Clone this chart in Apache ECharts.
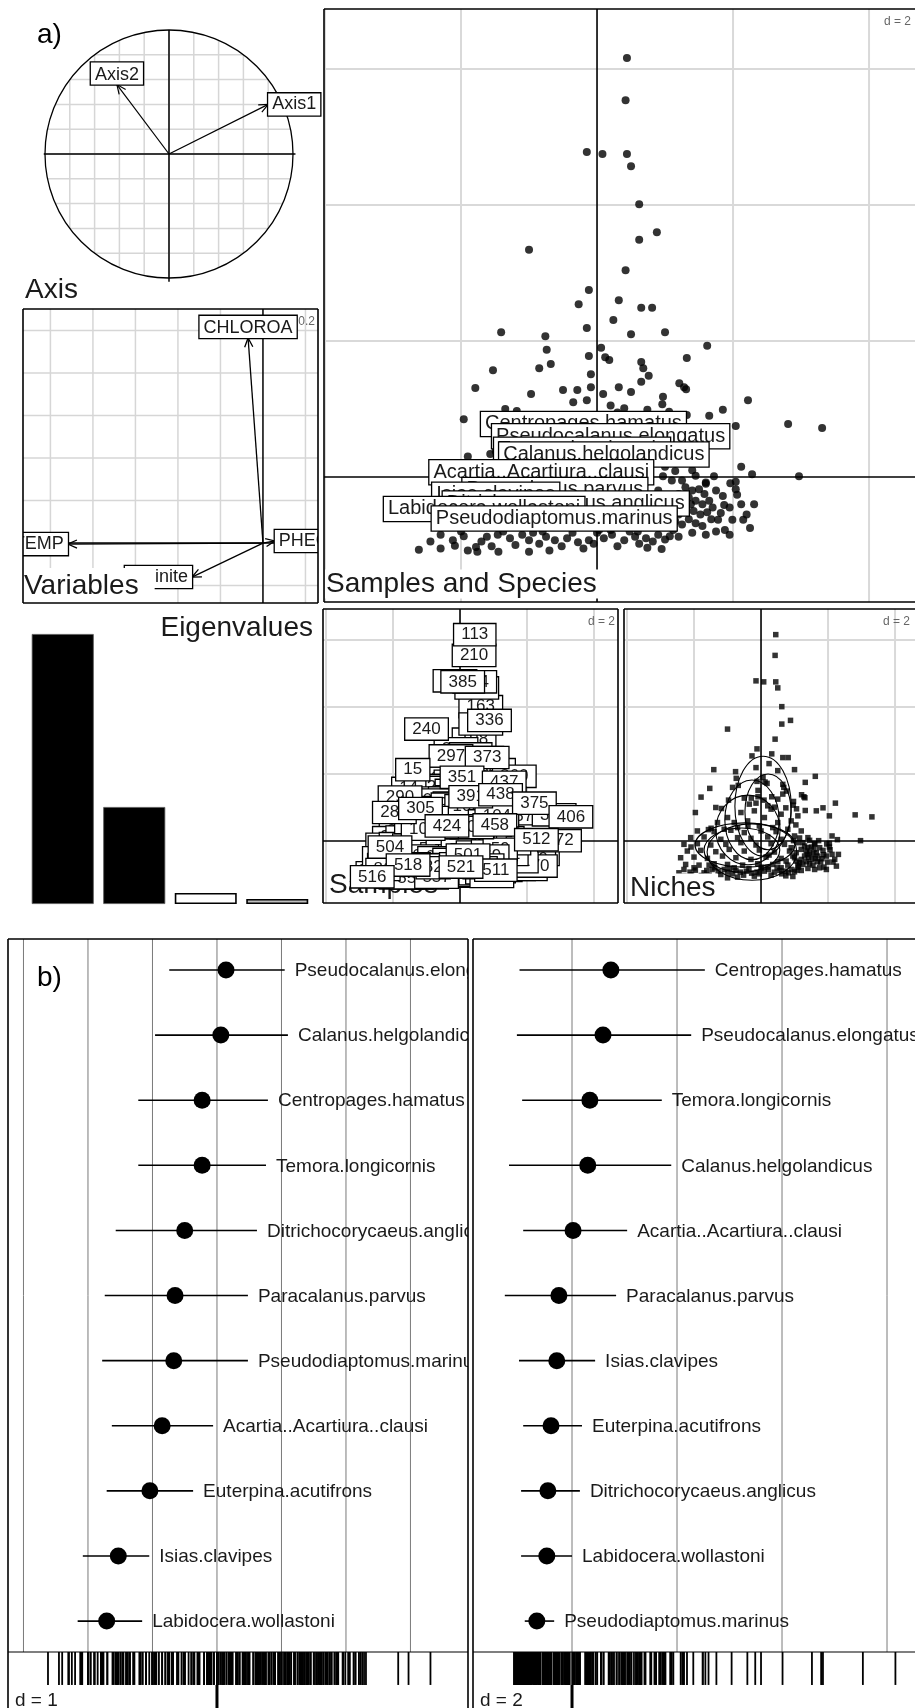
<!DOCTYPE html>
<html><head><meta charset="utf-8">
<script src="https://cdn.jsdelivr.net/npm/echarts@6/dist/echarts.min.js"></script>
<style>html,body{margin:0;padding:0;background:#fff}#c{width:915px;height:1708px}</style>
</head><body><div id="c"></div>
<script>
// ================= DATA =================
// correlation circle (panel "Axis")
const corNames = ['Axis1', 'Axis2'];
const corX = [0.80, -0.42];
const corY = [0.40, 0.56];
const corTicks = [-0.8, -0.6, -0.4, -0.2, 0, 0.2, 0.4, 0.6, 0.8];

// variables panel (d = 0.2)
const varNames = ['CHLOROA', 'TEMP', 'Salinite', 'PHEO'];
const varX = [-0.07, -0.918, -0.334, 0.056];
const varY = [0.965, -0.005, -0.16, 0.01];
const varTicksX = [-1.0, -0.8, -0.6, -0.4, -0.2, 0.2];
const varTicksY = [-0.2, 0.2, 0.4, 0.6, 0.8, 1.0];

// eigenvalues
const eigValues = [2.70, 0.97, 0.11, 0.05];

// scatter grid ticks (d = 2)
const ssTicksX = [-4, -2, 2, 4];
const ssTicksY = [2, 4, 6];

// samples: [axis1, axis2, sample id]
const sparsePts = [
[0.62,4.01,163],[0.42,3.04,198],[-0.12,2.75,243],[0.32,2.60,311],[0.65,2.49,312],[0.24,2.31,355],[-0.76,2.07,300],[-0.15,2.19,302],[0.50,2.10,340],[1.00,2.13,341],
[1.62,1.93,360],[-0.74,1.87,316],[0.12,1.76,358],[0.18,1.72,359],[-0.12,1.78,357],[0.65,1.69,364],[0.68,1.60,365],[-0.68,1.66,320],[-0.85,1.60,321],[-1.53,1.57,14],
[-0.09,1.51,380],[0.76,1.49,381],[0.65,1.40,383],[-0.09,1.32,390],[0.09,1.22,392],[1.28,1.32,439],[1.31,1.29,440],[-0.50,1.28,303],[-0.29,1.28,304],[0.50,1.25,393],
[-0.97,1.22,307],[0.97,1.18,441],[0.96,1.07,442],[-0.15,1.13,400],[1.85,0.99,376],[1.65,0.90,377],[0.40,1.01,401],[0.74,0.99,403],[1.06,0.96,443],[-1.35,1.00,291],
[1.32,0.91,444],[2.04,0.75,378],[-1.57,0.34,292],[-1.49,0.38,293],[2.12,0.15,407],[0.97,0.01,459],[1.15,0.09,460],[1.72,0.01,461],[1.96,-0.09,462],[2.04,-0.07,463],
[2.04,-0.18,464],[2.06,-0.26,465],[2.12,-0.40,466],[2.31,-0.40,467],[1.87,-0.41,468],[1.82,-0.53,469],[2.15,-0.63,473],[1.99,-0.63,474],[1.78,-0.63,475],[1.88,-0.78,476]
];
const lowRowPts = [
[-2.12,-0.93,505],[-1.96,-0.87,506],[-2.09,-1.01,507],[-1.78,-1.03,508],[-1.76,-1.10,509],[-1.62,-0.88,510],[-1.46,-0.85,513],[-1.28,-0.90,514],[-1.00,-0.93,515],[-0.94,-0.82,517],
[-0.62,-0.93,519],[-0.44,-0.90,520],[-0.28,-0.96,522],[-0.12,-0.93,523],[0.00,-0.82,524],[0.22,-0.85,525],[0.40,-0.93,526],[0.56,-0.88,527],[0.72,-0.90,528],[0.90,-0.85,529],
[1.12,-0.78,530],[-1.00,-1.10,531],[0.74,-1.04,532],
[-2.45,-0.95,533],[-2.30,-1.05,534],[-2.00,-0.80,535],[-1.90,-1.08,536],[-1.70,-0.95,537],[-1.55,-1.02,538],[-1.38,-0.80,539],[-1.20,-1.00,540],[-1.10,-0.85,541],[-0.85,-0.98,542],
[-0.75,-0.88,543],[-0.52,-1.02,544],[-0.36,-0.82,545],[-0.20,-1.05,546],[-0.05,-0.98,547],[0.10,-0.90,548],[0.30,-1.02,549],[0.48,-0.80,550],[0.62,-0.98,551],[0.82,-0.95,552],
[1.00,-0.92,553],[1.20,-0.88,554],[0.95,-1.06,555],[-1.45,-1.10,556],[-0.70,-1.08,557]
];
const rightClusterPts = [
[1.30,-0.15,480],[1.40,-0.20,481],[1.50,-0.18,482],[1.58,-0.25,483],[1.35,-0.30,484],[1.45,-0.35,485],[1.55,-0.40,486],[1.65,-0.35,487],[1.30,-0.45,488],[1.42,-0.50,489],
[1.52,-0.55,490],[1.62,-0.52,491],[1.35,-0.62,492],[1.45,-0.68,493],[1.55,-0.72,494],[1.25,-0.70,495],[1.15,-0.65,496],[1.20,-0.55,497],[1.10,-0.72,498],[1.05,-0.60,499],
[1.25,-0.05,558],[1.45,0.02,559],[1.60,-0.10,560],[1.75,-0.20,561],[1.85,-0.28,562],[1.70,-0.45,563],[1.95,-0.45,564],[1.40,-0.82,565],[1.60,-0.85,566],[1.75,-0.80,567],
[1.95,-0.85,568],[2.20,-0.55,569],[2.25,-0.75,570],[1.68,-0.62,571],[1.38,-0.40,572],[0.90,-0.20,573],[1.05,-0.35,574],[0.75,-0.60,575],[0.50,-0.62,576],[1.00,-0.50,577]
];
const mainClusterPts = [
[-1.90,0.30,21],[-1.40,0.28,22],[-0.90,0.32,23],[-0.50,0.25,24],[0.00,0.30,25],[0.45,0.28,26],[0.80,0.35,27],[1.20,0.30,28],
[-2.10,0.10,31],[-1.70,0.12,32],[-1.20,0.05,33],[-0.70,0.10,34],[-0.30,0.08,35],[0.20,0.12,36],[0.60,0.05,37],[1.00,0.15,38],[1.40,0.10,39],
[-2.30,-0.10,41],[-1.90,-0.08,42],[-1.50,-0.12,43],[-1.05,-0.10,44],[-0.60,-0.05,45],[-0.15,-0.12,46],[0.30,-0.08,47],[0.70,-0.10,48],[1.10,-0.05,49],[1.60,-0.08,50],
[-2.20,-0.30,51],[-1.80,-0.28,52],[-1.35,-0.32,53],[-0.95,-0.25,54],[-0.50,-0.30,55],[-0.05,-0.27,56],[0.40,-0.33,57],[0.85,-0.30,58],[1.20,-0.25,59],
[-2.40,-0.50,61],[-2.00,-0.48,62],[-1.60,-0.52,63],[-1.15,-0.45,64],[-0.75,-0.50,65],[-0.30,-0.55,66],[0.15,-0.48,67],[0.60,-0.52,68],[0.95,-0.45,69],
[-2.25,-0.70,71],[-1.85,-0.72,72],[-1.40,-0.68,73],[-1.00,-0.70,74],[-0.55,-0.72,75],[-0.10,-0.68,76],[0.35,-0.70,77],[0.80,-0.72,78],
[-2.30,-0.85,81],[-0.80,-0.80,82],[0.20,-0.78,83],[0.60,-0.80,84],
[-0.80,0.55,91],[-0.40,0.60,92],[0.10,0.70,93],[0.50,0.55,94],[-0.60,0.85,95],[-0.20,0.90,96],[0.30,0.95,97],[0.60,0.80,98],[-0.35,1.10,99],[0.20,1.05,100],
[-1.00,0.70,101],[0.90,0.60,102],[-1.30,0.55,103],[1.10,0.75,104],[-0.05,0.45,105],[0.35,0.40,106],[-0.70,0.40,107],[-1.10,0.35,108]
];
const labelledPts = [
[-1.79,1.31,290],[-1.96,0.85,285],[-1.18,0.97,305],[-0.27,2.54,297],[-1.41,2.13,15],[-1.00,3.34,240],[0.50,4.57,387],[0.44,4.75,334],[-0.15,4.78,165],[0.08,4.75,385],
[0.42,5.54,210],[0.44,6.16,113],[0.62,3.49,253],[0.88,3.60,336],[0.81,2.49,373],[0.06,1.90,351],[1.32,1.75,437],[2.81,0.78,394],[0.32,1.32,391],[1.21,1.38,438],
[2.22,1.13,375],[3.31,0.72,406],[-0.39,0.45,424],[1.04,0.48,458],[2.97,0.01,472],[2.28,0.04,512],[-2.09,-0.18,504],[0.24,-0.42,501],[1.07,-0.87,511],[0.03,-0.78,521],
[-1.55,-0.72,518],[-2.62,-1.07,516]
];

// species positions in the samples & species plane (back to front)
const spNames = ['Centropages.hamatus','Pseudocalanus.elongatus','Temora.longicornis','Calanus.helgolandicus','Acartia..Acartiura..clausi','Euterpina.acutifrons','Paracalanus.parvus','Isias.clavipes','Ditrichocorycaeus.anglicus','Labidocera.wollastoni','Pseudodiaptomus.marinus'];
const spX = [-0.20, 0.20, -0.22, 0.10, -0.82, -0.90, -0.62, -1.49, -0.46, -1.66, -0.63];
const spY = [0.78, 0.60, 0.40, 0.33, 0.07, -0.30, -0.19, -0.26, -0.39, -0.47, -0.61];

// niche ellipses
const nicheCx = [0.06, 0.21, -0.27, -0.39, -0.27, -0.57, -0.48];
const nicheCy = [1.04, 0.87, 0.63, 0.33, -0.33, -0.27, -0.12];
const nicheRx = [0.84, 0.69, 0.81, 0.96, 1.34, 1.13, 1.49];
const nicheRy = [1.49, 1.13, 1.19, 1.04, 0.84, 0.66, 0.66];

// panel b, axis 1 (d = 1)
const b1Names = ['Pseudocalanus.elongatus','Calanus.helgolandicus','Centropages.hamatus','Temora.longicornis','Ditrichocorycaeus.anglicus','Paracalanus.parvus','Pseudodiaptomus.marinus','Acartia..Acartiura..clausi','Euterpina.acutifrons','Isias.clavipes','Labidocera.wollastoni'];
const b1Mean = [0.14, 0.06, -0.23, -0.23, -0.50, -0.65, -0.67, -0.85, -1.04, -1.53, -1.71];
const b1Lo = [-0.74, -0.96, -1.22, -1.22, -1.57, -1.74, -1.78, -1.63, -1.71, -2.08, -2.16];
const b1Hi = [1.05, 1.10, 0.79, 0.76, 0.62, 0.48, 0.48, -0.06, -0.37, -1.05, -1.16];
const b1Ticks = [-3, -2, -1, 0, 1, 2, 3];
// panel b, axis 2 (d = 2)
const b2Names = ['Centropages.hamatus','Pseudocalanus.elongatus','Temora.longicornis','Calanus.helgolandicus','Acartia..Acartiura..clausi','Paracalanus.parvus','Isias.clavipes','Euterpina.acutifrons','Ditrichocorycaeus.anglicus','Labidocera.wollastoni','Pseudodiaptomus.marinus'];
const b2Mean = [0.74, 0.59, 0.34, 0.30, 0.02, -0.25, -0.29, -0.40, -0.46, -0.48, -0.67];
const b2Lo = [-1.00, -1.05, -0.95, -1.20, -0.93, -1.28, -1.01, -0.93, -0.97, -0.97, -0.90];
const b2Hi = [2.53, 2.27, 1.71, 1.89, 1.05, 0.84, 0.44, 0.19, 0.15, 0.00, -0.34];
const b2Ticks = [-2, 0, 2, 4, 6];

// ================= DRAWING =================
const FONT = '"Liberation Sans", Arial, Helvetica, sans-serif';
const TXT = '#1a1a1a';
const samples = sparsePts.concat(lowRowPts, rightClusterPts, mainClusterPts, labelledPts);

function line(x1, y1, x2, y2, stroke, w) {
  return {type: 'line', shape: {x1, y1, x2, y2}, style: {stroke, lineWidth: w}};
}
function text(x, y, str, fs, align, va, extra) {
  return {type: 'text', x, y, style: Object.assign({text: String(str), fontSize: fs, fontFamily: FONT, fill: TXT, align, verticalAlign: va}, extra || {})};
}
function boxText(x, y, str, fs, align, va, pad) {
  return text(x, y, str, fs, align, va, {backgroundColor: '#fff', borderColor: '#000', borderWidth: 1.3, padding: pad || [3, 4, 1, 4]});
}
function title(x, y, str, fs, pad) {
  return text(x, y, str, fs || 28, 'left', 'middle', {backgroundColor: '#fff', padding: pad || [1, 2, 0, 1]});
}
function arrow(p0, p1, w) {
  const ang = Math.atan2(p1[1] - p0[1], p1[0] - p0[0]);
  const L = 10, a = 0.42;
  const h1 = [p1[0] - L * Math.cos(ang - a), p1[1] - L * Math.sin(ang - a)];
  const h2 = [p1[0] - L * Math.cos(ang + a), p1[1] - L * Math.sin(ang + a)];
  return [line(p0[0], p0[1], p1[0], p1[1], '#000', w),
    {type: 'polyline', shape: {points: [h1, p1, h2]}, style: {stroke: '#000', fill: null, lineWidth: w}}];
}
function endLabel(p0, p1, str, fs) {
  const dx = p1[0] - p0[0], dy = p1[1] - p0[1];
  if (Math.abs(dx) >= Math.abs(dy)) return boxText(p1[0], p1[1], str, fs, dx > 0 ? 'left' : 'right', 'middle');
  return boxText(p1[0], p1[1], str, fs, 'center', dy < 0 ? 'bottom' : 'top');
}
function gridLines(api, cs, xt, yt, color, w) {
  const out = [];
  xt.forEach(v => { const x = api.coord([v, 0])[0]; out.push(line(x, cs.y, x, cs.y + cs.height, color, w)); });
  yt.forEach(v => { const y = api.coord([0, v])[1]; out.push(line(cs.x, y, cs.x + cs.width, y, color, w)); });
  return out;
}
function axesLines(api, cs, w) {
  const o = api.coord([0, 0]);
  return [line(cs.x, o[1], cs.x + cs.width, o[1], '#000', w), line(o[0], cs.y, o[0], cs.y + cs.height, '#000', w)];
}
function custom(gi, z, fn) {
  return {type: 'custom', coordinateSystem: 'cartesian2d', xAxisIndex: gi, yAxisIndex: gi, clip: true, silent: true, z,
    data: [[0, 0]], renderItem: (params, api) => ({type: 'group', children: fn(params.coordSys, api)})};
}

// ----- grids & axes (all kept inside the 915 x 1708 canvas) -----
const gridBoxes = [
  {left: 20, top: 9, width: 302, height: 291},     // 0 correlation circle
  {left: 23, top: 309, width: 295, height: 294},   // 1 variables
  {left: 324, top: 9, width: 591, height: 593},    // 2 samples and species
  {left: 27, top: 620, width: 286, height: 284},   // 3 eigenvalues
  {left: 323, top: 609, width: 295, height: 294},  // 4 samples
  {left: 624, top: 609, width: 291, height: 294},  // 5 niches
  {left: 8, top: 939, width: 460, height: 769},    // 6 b axis 1
  {left: 473, top: 939, width: 442, height: 769}   // 7 b axis 2
];
const grids = gridBoxes.map(g => Object.assign({show: false, containLabel: false, outerBoundsMode: 'none'}, g));
const frameSides = [null, 'ltrb', 'ltb', null, 'ltrb', 'ltb', 'ltr', 'lt'];

const ranges = [
  [-1.2016, 1.2339, -1.1774, 1.1694],
  [-1.129, 0.259, -0.282, 1.101],
  [-4.015, 4.676, -1.838, 6.882],
  null,
  [-4.09, 4.716, -1.851, 6.925],
  [-4.09, 4.596, -1.851, 6.925],
  [-3.240, 3.892, -0.476, 11.335],
  [-1.886, 6.533, -0.476, 11.335]
];
const xAxes = [], yAxes = [];
ranges.forEach((r, i) => {
  if (!r) {
    xAxes.push({gridIndex: i, type: 'category', data: ['1', '2', '3', '4'], show: false});
    yAxes.push({gridIndex: i, type: 'value', min: 0, max: 2.84, show: false});
  } else {
    xAxes.push({gridIndex: i, type: 'value', min: r[0], max: r[1], show: false});
    yAxes.push({gridIndex: i, type: 'value', min: r[2], max: r[3], show: false, inverse: i >= 6});
  }
});

const RUG_TOP = 10.475, RUG_BOT = 10.981;

function bPanel(names, mean, lo, hi, ticks, dLabel, rugVals) {
  return (cs, api) => {
    const els = [];
    const yRug = api.coord([0, RUG_TOP])[1], yRugB = api.coord([0, RUG_BOT])[1];
    ticks.forEach(t => { const x = api.coord([t, 0])[0]; els.push(line(x, cs.y, x, yRug, '#7a7a7a', 1)); });
    els.push(line(cs.x, yRug, cs.x + cs.width, yRug, '#000', 1.2));
    rugVals.forEach(v => { const x = api.coord([v, 0])[0]; els.push(line(x, yRug, x, yRugB, '#000', 1.8)); });
    const x0 = api.coord([0, 0])[0];
    els.push(line(x0, yRugB, x0, cs.y + cs.height, '#000', 3));
    names.forEach((n, i) => {
      const a = api.coord([lo[i], i]), b = api.coord([hi[i], i]), m = api.coord([mean[i], i]);
      els.push(line(a[0], a[1], b[0], b[1], '#000', 1.6));
      els.push({type: 'circle', shape: {cx: m[0], cy: m[1], r: 8.5}, style: {fill: '#000'}});
      els.push(text(b[0] + 10, b[1] + 1, n, 19, 'left', 'middle'));
    });
    els.push(text(cs.x + 7, 1701, dLabel, 19, 'left', 'middle'));
    return els;
  };
}

const series = [
  // correlation circle
  custom(0, 2, (cs, api) => {
    const c = api.coord([0, 0]);
    const r = api.size([1, 1])[0];
    const els = [];
    corTicks.forEach(t => {
      const h = Math.sqrt(Math.max(0, 1 - t * t)) * r;
      const px = api.coord([t, 0])[0], py = api.coord([0, t])[1];
      els.push(line(px, c[1] - h, px, c[1] + h, '#d6d6d6', 1.5));
      els.push(line(c[0] - h, py, c[0] + h, py, '#d6d6d6', 1.5));
    });
    els.push({type: 'circle', shape: {cx: c[0], cy: c[1], r}, style: {fill: null, stroke: '#000', lineWidth: 1.3}});
    const hl = api.coord([-1.01, 0]), hr = api.coord([1.02, 0]);
    const vt = api.coord([0, 1.0]), vb = api.coord([0, -1.03]);
    els.push(line(hl[0], hl[1], hr[0], hr[1], '#000', 1.5));
    els.push(line(vt[0], vt[1], vb[0], vb[1], '#000', 1.5));
    corNames.forEach((n, i) => {
      const p = api.coord([corX[i], corY[i]]);
      arrow(c, p, 1.2).forEach(e => els.push(e));
      els.push(endLabel(c, p, n, 18));
    });
    return els;
  }),
  // variables
  custom(1, 2, (cs, api) => {
    const els = gridLines(api, cs, varTicksX, varTicksY, '#d6d6d6', 1.5).concat(axesLines(api, cs, 1.5));
    els.push(text(cs.x + cs.width - 3, cs.y + 13, 'd = 0.2', 12, 'right', 'middle', {fill: '#666'}));
    const o = api.coord([0, 0]);
    varNames.forEach((n, i) => {
      const p = api.coord([varX[i], varY[i]]);
      arrow(o, p, 1.3).forEach(e => els.push(e));
    });
    varNames.forEach((n, i) => {
      const p = api.coord([varX[i], varY[i]]);
      els.push(endLabel(o, p, n, 18));
    });
    els.push(title(cs.x, 586, 'Variables', 28, [6, 16, 2, 1]));
    return els;
  }),
  // samples and species background
  custom(2, 1, (cs, api) => {
    const els = gridLines(api, cs, ssTicksX, ssTicksY, '#d9d9d9', 2).concat(axesLines(api, cs, 1.6));
    els.push(text(884, 22, 'd = 2', 12, 'left', 'middle', {fill: '#666'}));
    els.push(title(cs.x + 1, 584, 'Samples and Species', 28));
    return els;
  }),
  {type: 'scatter', xAxisIndex: 2, yAxisIndex: 2, z: 2, silent: true, symbol: 'circle', symbolSize: 8,
    itemStyle: {color: '#000'}, data: samples.map(s => [s[0], s[1]])},
  custom(2, 3, (cs, api) => spNames.map((n, i) => {
    const p = api.coord([spX[i], spY[i]]);
    return boxText(p[0], p[1], n, 20, 'center', 'middle', [3, 4, 1, 4]);
  })),
  // eigenvalues
  {type: 'bar', xAxisIndex: 3, yAxisIndex: 3, barWidth: 62, silent: true, z: 2,
    data: eigValues.map((v, i) => ({value: v, itemStyle: {
      color: ['#000', '#000', '#fff', '#bfbfbf'][i], borderColor: i < 2 ? '#555' : '#000', borderWidth: i < 2 ? 0.8 : 1.6}}))},
  // small samples panel
  custom(4, 2, (cs, api) => {
    const els = gridLines(api, cs, ssTicksX, ssTicksY, '#d9d9d9', 2).concat(axesLines(api, cs, 1.6));
    els.push(text(cs.x + cs.width - 3, 622, 'd = 2', 12, 'right', 'middle', {fill: '#666'}));
    els.push(text(cs.x + 6, 885, 'Samples', 28, 'left', 'middle'));
    samples.forEach(s => {
      const p = api.coord([s[0], s[1]]);
      els.push(boxText(p[0], p[1], s[2], 17, 'center', 'middle', [3, 7, 1, 7]));
    });
    return els;
  }),
  // niches
  custom(5, 1, (cs, api) => {
    const els = gridLines(api, cs, ssTicksX, ssTicksY, '#d9d9d9', 2).concat(axesLines(api, cs, 1.6));
    els.push(text(883, 622, 'd = 2', 12, 'left', 'middle', {fill: '#666'}));
    return els;
  }),
  {type: 'scatter', xAxisIndex: 5, yAxisIndex: 5, z: 2, silent: true, symbol: 'rect', symbolSize: 5.5,
    itemStyle: {color: '#000'}, data: samples.map(s => [s[0], s[1]])},
  custom(5, 3, (cs, api) => {
    const els = nicheCx.map((cx, i) => {
      const c = api.coord([cx, nicheCy[i]]);
      const rx = api.size([nicheRx[i], 0])[0], ry = api.size([0, nicheRy[i]])[1];
      return {type: 'ellipse', shape: {cx: c[0], cy: c[1], rx, ry}, style: {fill: null, stroke: '#000', lineWidth: 1.1}};
    });
    els.push(title(cs.x + 5, 888, 'Niches'));
    return els;
  }),
  // panel b
  custom(6, 2, bPanel(b1Names, b1Mean, b1Lo, b1Hi, b1Ticks, 'd = 1', samples.map(s => s[0]))),
  custom(7, 2, bPanel(b2Names, b2Mean, b2Lo, b2Hi, b2Ticks, 'd = 2', samples.map(s => s[1])))
];

// panel frames
const graphics = [];
gridBoxes.forEach((g, i) => {
  const sides = frameSides[i];
  if (!sides) return;
  const l = g.left, t = g.top, r = g.left + g.width, b = g.top + g.height;
  const seg = (x1, y1, x2, y2) => graphics.push({type: 'line', z: 50, silent: true,
    shape: {x1, y1, x2, y2}, style: {stroke: '#000', lineWidth: 1.6}});
  if (sides.includes('l')) seg(l, t, l, b);
  if (sides.includes('t')) seg(l, t, r, t);
  if (sides.includes('r')) seg(r, t, r, b);
  if (sides.includes('b')) seg(l, b, r, b);
});
graphics.push(
  {type: 'text', left: 37, top: 21, style: {text: 'a)', fontSize: 28, fontFamily: FONT, fill: '#000'}},
  {type: 'text', left: 37, top: 964, z: 100, style: {text: 'b)', fontSize: 28, fontFamily: FONT, fill: '#000'}},
  {type: 'text', left: 25, top: 276, style: {text: 'Axis', fontSize: 28, fontFamily: FONT, fill: TXT}},
  {type: 'text', right: 915 - 313, top: 614, style: {text: 'Eigenvalues', fontSize: 28, fontFamily: FONT, fill: TXT}}
);

const chart = echarts.init(document.getElementById('c'), null, {renderer: 'canvas', width: 915, height: 1708});
chart.setOption({
  animation: false,
  backgroundColor: '#fff',
  grid: grids,
  xAxis: xAxes,
  yAxis: yAxes,
  series: series,
  graphic: graphics
});
</script>
</body></html>
